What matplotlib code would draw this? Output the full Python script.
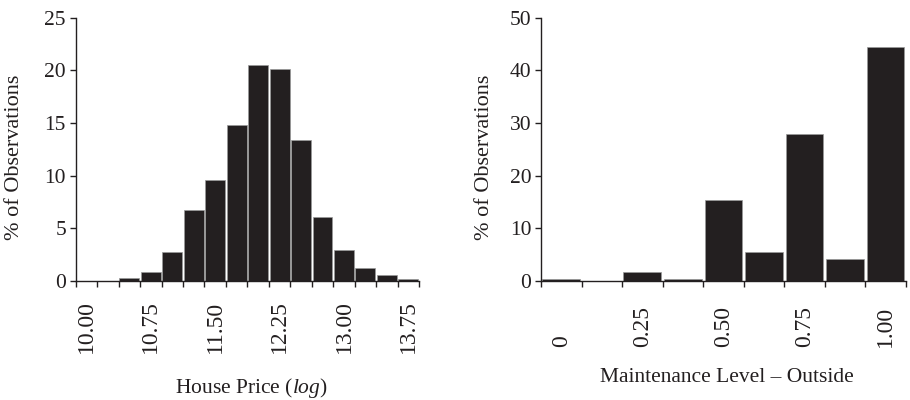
import numpy as np
import matplotlib
matplotlib.use('agg')
import matplotlib.pyplot as plt

# data
price_bins = [10.00, 10.25, 10.50, 10.75, 11.00, 11.25, 11.50, 11.75,
              12.00, 12.25, 12.50, 12.75, 13.00, 13.25, 13.50, 13.75]
price_pct = [0.0, 0.0, 0.25, 0.85, 2.75, 6.7, 9.6, 14.8,
             20.5, 20.1, 13.4, 6.1, 2.9, 1.2, 0.55, 0.2]
price_labels = ['10.00', '10.75', '11.50', '12.25', '13.00', '13.75']

maint_bins = [0.0, 0.125, 0.25, 0.375, 0.5, 0.625, 0.75, 0.875, 1.0]
maint_pct = [0.3, 0.0, 1.8, 0.3, 15.4, 5.6, 27.9, 4.2, 44.4]
maint_labels = ['0', '0.25', '0.50', '0.75', '1.00']

ink = '#231f20'
plt.rcParams['font.family'] = ['Liberation Serif', 'DejaVu Serif']
plt.rcParams['mathtext.fontset'] = 'custom'
plt.rcParams['mathtext.rm'] = 'Liberation Serif'
plt.rcParams['mathtext.it'] = 'Liberation Serif:italic'
plt.rcParams['text.color'] = ink
plt.rcParams['axes.labelcolor'] = ink
plt.rcParams['xtick.color'] = ink
plt.rcParams['ytick.color'] = ink

fig = plt.figure(figsize=(9.1, 4), dpi=100)
ax1 = fig.add_axes([0.0832, 0.2975, 0.3773, 0.658])
ax2 = fig.add_axes([0.5945, 0.2975, 0.4008, 0.658])


def style(ax, bins, pct, step, labels, label_pos, ymax, ystep, label_pad):
    w = step
    ax.bar(bins, pct, width=w * 0.93, color=ink, edgecolor='#9a9a9a',
           linewidth=0.5, zorder=2)
    ax.set_xlim(bins[0] - w / 2, bins[-1] + w / 2)
    ax.set_ylim(0, ymax)
    for s in ['top', 'right']:
        ax.spines[s].set_visible(False)
    for s in ['left', 'bottom']:
        ax.spines[s].set_color(ink)
        ax.spines[s].set_linewidth(1.0)
    # tick marks at bin edges, labels at bin centres
    edges = np.arange(len(bins) + 1) * w + bins[0] - w / 2
    ax.set_xticks(edges)
    ax.set_xticklabels([])
    ax.set_xticks(label_pos, minor=True)
    ax.set_xticklabels(labels, minor=True, rotation=90, va='bottom',
                       fontsize=17)
    ax.tick_params(axis='x', which='major', direction='out', length=4, width=1)
    ax.tick_params(axis='x', which='minor', length=0, pad=label_pad)
    ax.set_yticks(np.arange(0, ymax + 1, ystep))
    ax.tick_params(axis='y', direction='out', length=4, width=1,
                   labelsize=15.5, pad=3)


style(ax1, price_bins, price_pct, 0.25, price_labels,
      [10.00, 10.75, 11.50, 12.25, 13.00, 13.75], 25, 5, 52)
style(ax2, maint_bins, maint_pct, 0.125, maint_labels,
      [0.0, 0.25, 0.5, 0.75, 1.0], 50, 10, 47.5)

ax1.set_xlabel(r'House Price $\mathit{(log)}$', fontsize=15.5)
ax1.xaxis.set_label_coords(0.513, -0.36)
ax1.set_ylabel('% of Observations', fontsize=16)
ax1.yaxis.set_label_coords(-0.15, 0.47)

ax2.set_xlabel('Maintenance Level – Outside', fontsize=15.5)
ax2.xaxis.set_label_coords(0.509, -0.33)
ax2.set_ylabel('% of Observations', fontsize=16)
ax2.yaxis.set_label_coords(-0.129, 0.47)

fig.savefig('out.png', dpi=100)
